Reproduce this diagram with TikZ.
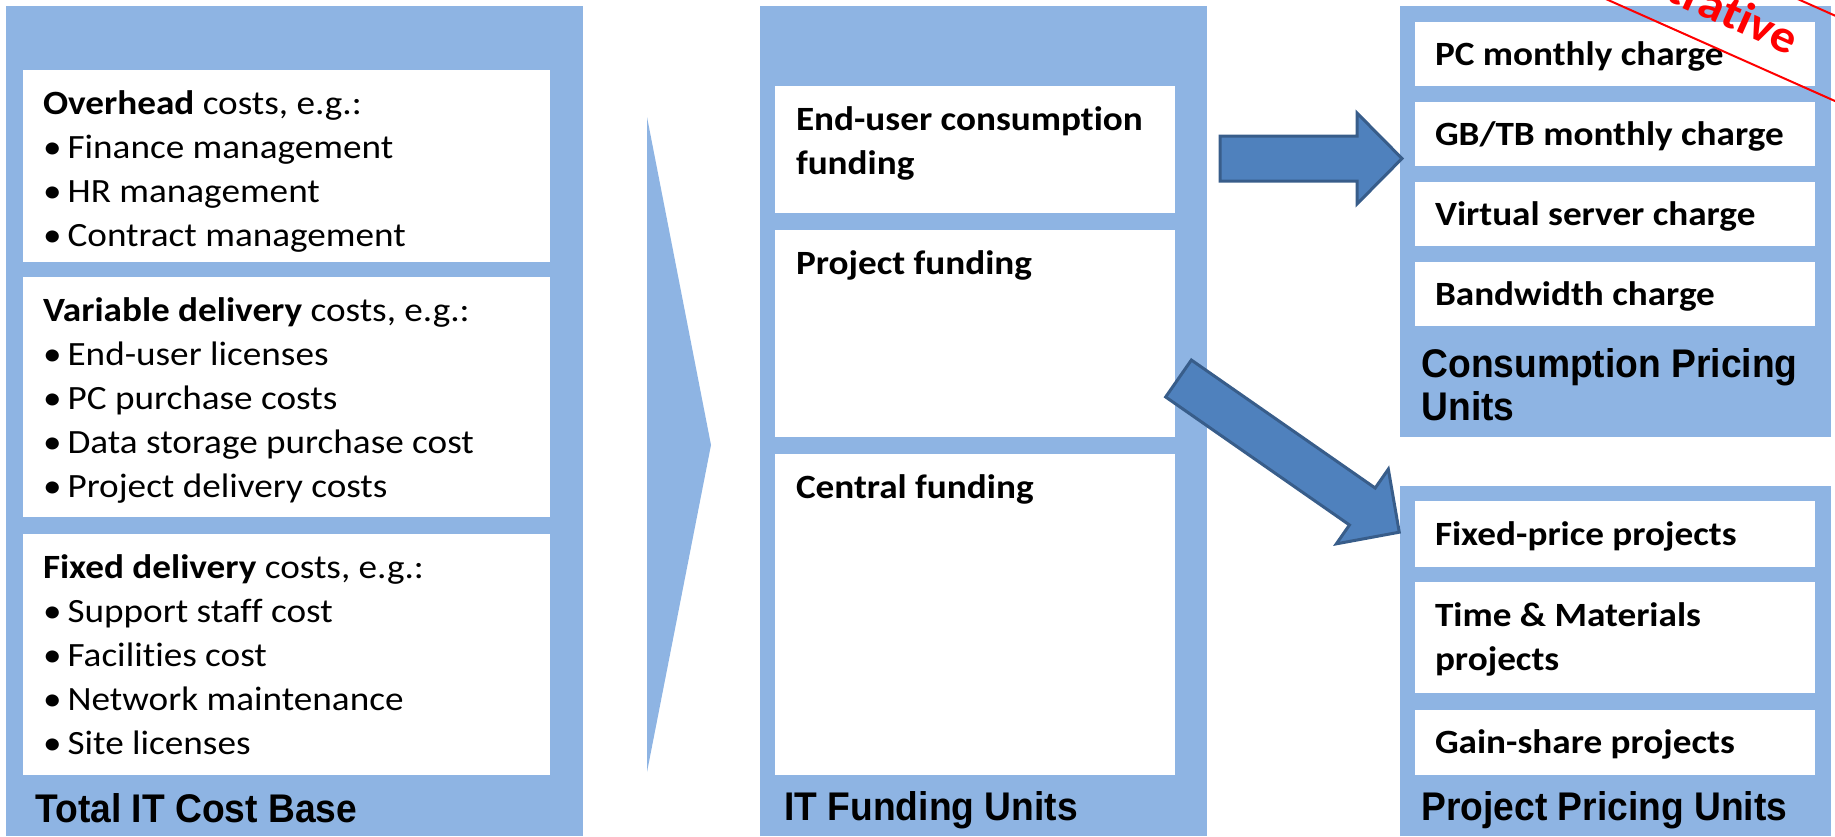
\documentclass[tikz,border=0pt]{standalone}
\usepackage{fontspec}
\setmainfont{Carlito}[FakeStretch=1.094, Ligatures=NoCommon]
\newfontfamily\arialfont{Liberation Sans}[FakeStretch=0.93]
\usepackage{tikz}
\usetikzlibrary{positioning}
\usetikzlibrary{fit}

\definecolor{panelblue}{RGB}{142,180,227}
\definecolor{arrowfill}{RGB}{79,129,189}
\definecolor{arrowline}{RGB}{56,93,138}

\newcommand{\bul}{\makebox[12.3pt][l]{\textbullet}}

\begin{document}
\begin{tikzpicture}[x=0.5pt, y=-0.5pt]
  \tikzstyle{panel}=[fill=panelblue, inner sep=0]
  \tikzstyle{card}=[fill=white, inner sep=0]
  \tikzstyle{body}=[inner sep=0, align=left, font=\fontsize{17pt}{22pt}\selectfont]
  \tikzstyle{cardtext}=[inner sep=0, align=left, font=\fontsize{17pt}{22pt}\selectfont\bfseries]
  \tikzstyle{heading}=[inner sep=0, align=left, font=\arialfont\fontsize{20pt}{21.5pt}\selectfont\bfseries]
  \tikzstyle{fatarrow}=[fill=arrowfill, draw=arrowline, line width=1.5pt, line join=miter]
  \tikzstyle{stamp}=[draw=red, text=red, line width=1pt, inner xsep=40pt, minimum height=39pt,
    font=\fontsize{23pt}{26pt}\selectfont\bfseries]

  \useasboundingbox (0,0) rectangle (1835,836);
  \clip (0,0) rectangle (1835,836);

  % panels
  \node[panel, fit={(6,6) (583,836)}] (costbase) {};
  \node[panel, fit={(760,6) (1207,836)}] (funding) {};
  \node[panel, fit={(1400,6) (1831,437)}] (consumption) {};
  \node[panel, fit={(1400,486) (1831,836)}] (projects) {};

  % cost base
  \node[card, fit={(23,70) (550,262)}] (overhead) {};
  \node[card, fit={(23,277) (550,517)}] (variable) {};
  \node[card, fit={(23,534) (550,775)}] (fixed) {};
  \node[body, below right=7pt and 10pt of overhead.north west] (overheadlist)
    {\strut\textbf{Overhead} costs, e.g.:\\
     \strut\bul Finance management\\
     \strut\bul HR management\\
     \strut\bul Contract management};
  \node[body, below right=7pt and 10pt of variable.north west] (variablelist)
    {\strut\textbf{Variable delivery} costs, e.g.:\\
     \strut\bul End-user licenses\\
     \strut\bul PC purchase costs\\
     \strut\bul Data storage purchase cost\\
     \strut\bul Project delivery costs};
  \node[body, below right=7pt and 10pt of fixed.north west] (fixedlist)
    {\strut\textbf{Fixed delivery} costs, e.g.:\\
     \strut\bul Support staff cost\\
     \strut\bul Facilities cost\\
     \strut\bul Network maintenance\\
     \strut\bul Site licenses};
  \node[heading, anchor=base west] (costtitle) at (35,822) {Total IT Cost Base};

  % chevron
  \fill[panelblue] (647,117) -- (711,445) -- (647,772) -- cycle;

  % funding units
  \node[card, fit={(775,86) (1175,213)}] (enduser) {};
  \node[card, fit={(775,230) (1175,437)}] (projectfund) {};
  \node[card, fit={(775,454) (1175,775)}] (central) {};
  \node[cardtext, below right=6.6pt and 10.5pt of enduser.north west]
    (endusertext) {\strut End-user consumption\\ \strut funding};
  \node[cardtext, below right=6.6pt and 10.5pt of projectfund.north west]
    (projectfundtext) {\strut Project funding};
  \node[cardtext, below right=6.6pt and 10.5pt of central.north west]
    (centraltext) {\strut Central funding};
  \node[heading, anchor=base west] (fundtitle) at (784,820) {IT Funding Units};

  % consumption pricing
  \node[card, fit={(1415,22) (1815,86)}] (pcmonthly) {};
  \node[card, fit={(1415,102) (1815,166)}] (gbmonthly) {};
  \node[card, fit={(1415,182) (1815,246)}] (vserver) {};
  \node[card, fit={(1415,262) (1815,326)}] (bandwidth) {};
  \node[cardtext, right=10pt of pcmonthly.west, yshift=-1.1pt] (pctext) {\strut PC monthly charge};
  \node[cardtext, right=10pt of gbmonthly.west, yshift=-1.1pt] (gbtext) {\strut GB/TB monthly charge};
  \node[cardtext, right=10pt of vserver.west, yshift=-1.1pt] (vservertext) {\strut Virtual server charge};
  \node[cardtext, right=10pt of bandwidth.west, yshift=-1.1pt] (bandwidthtext) {\strut Bandwidth charge};
  \node[heading, anchor=north west] (consumptiontitle) at (1421,347)
    {\strut Consumption Pricing\\ \strut Units};

  % project pricing
  \node[card, fit={(1415,501) (1815,567)}] (fixedprice) {};
  \node[card, fit={(1415,582) (1815,693)}] (timemat) {};
  \node[card, fit={(1415,710) (1815,775)}] (gainshare) {};
  \node[cardtext, right=10pt of fixedprice.west, yshift=-1.1pt] (fixedpricetext) {\strut Fixed-price projects};
  \node[cardtext, right=10pt of timemat.west, yshift=-1.1pt] (timemattext) {\strut Time \& Materials\\ \strut projects};
  \node[cardtext, right=10pt of gainshare.west, yshift=-1.1pt] (gainsharetext) {\strut Gain-share projects};
  \node[heading, anchor=base west] (projecttitle) at (1421,820) {Project Pricing Units};

  % block arrows
  \coordinate (consumptiontail) at (1220,158.5);
  \coordinate (projecttail) at (1178.5,378.5);
  \begin{scope}[shift={(consumptiontail)}]
    \draw[fatarrow] (0,-22.5) -- (137,-22.5) -- (137,-45.5) -- (182,0)
      -- (137,45.5) -- (137,22.5) -- (0,22.5) -- cycle;
  \end{scope}
  \begin{scope}[shift={(projecttail)}, rotate=-34.85]
    \draw[fatarrow] (0,-22.5) -- (224,-22.5) -- (224,-45.5) -- (269,0)
      -- (224,45.5) -- (224,22.5) -- (0,22.5) -- cycle;
  \end{scope}

  % stamp
  \node[stamp, rotate=-24] (illustrative) at (1695,-4) {Illustrative};
\end{tikzpicture}
\end{document}
